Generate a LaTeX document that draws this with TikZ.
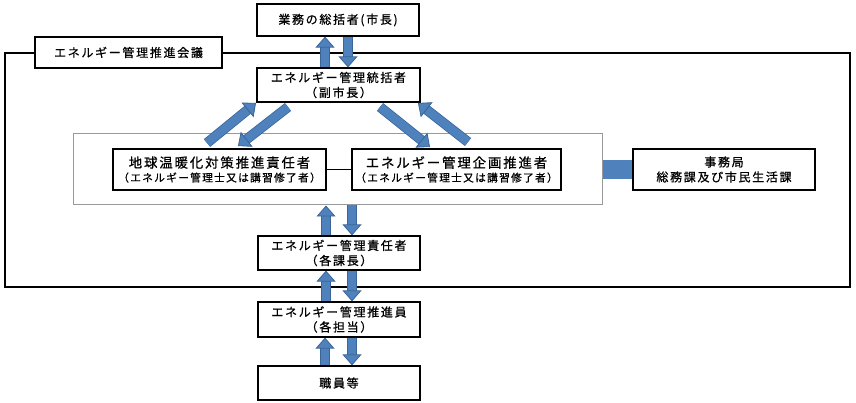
\documentclass[tikz,border=0pt]{standalone}
\usepackage{fontspec}
\usetikzlibrary{arrows.meta}
\setmainfont{Noto Sans CJK JP}[LetterSpace=14,FakeBold=0.8]
\newfontfamily\subfont{Noto Sans CJK JP}[LetterSpace=12,FakeBold=0.6]
\definecolor{ablue}{HTML}{4F81BD}
\definecolor{aborder}{HTML}{3A6596}
\tikzset{
  box/.style={draw=black, line width=1.2pt, fill=white, align=center, inner sep=0pt, font=\fontsize{12}{15}\selectfont},
  barrow/.style={line width=8.5pt, draw=ablue,
     preaction={draw=aborder, line width=10pt, arrows=-, shorten >=9pt},
     -{Triangle[width=19pt,length=11pt,fill=ablue,color=aborder,line width=0.8pt]}}
}
\begin{document}
\begin{tikzpicture}[x=1pt,y=-1pt]
\useasboundingbox (0,0) rectangle (856,403);
% outer frame
\node[draw=black, line width=2pt, minimum width=845pt, minimum height=234pt, inner sep=0pt] (frame) at (427.5,170) {};
\node[box, minimum width=187pt, minimum height=31pt] (conf) at (128.5,52.5) {エネルギー管理推進会議};
% gray group
\node[draw=gray!80, line width=1pt, fill=white, minimum width=529pt, minimum height=71pt, inner sep=0pt] (grp) at (337.5,169.5) {};
% boxes
\node[box, minimum width=162pt, minimum height=32pt] (top) at (338,20) {業務の総括者(市長)};
\node[box, minimum width=163pt, minimum height=34pt] (ctrl) at (338.5,85) {エネルギー管理統括者\\（副市長）};
\node[box, minimum width=213pt, minimum height=41pt, font=\fontsize{13.4}{15}\selectfont] (left) at (219.5,169.5) {地球温暖化対策推進責任者\\[-1pt]{\subfont\fontsize{10.7}{12}\selectfont（エネルギー管理士又は講習修了者）}};
\node[box, minimum width=209pt, minimum height=41pt, font=\fontsize{13.4}{15}\selectfont] (right) at (456.5,169.5) {エネルギー管理企画推進者\\[-1pt]{\subfont\fontsize{10.7}{12}\selectfont（エネルギー管理士又は講習修了者）}};
\node[box, minimum width=182pt, minimum height=41pt] (office) at (724,169.5) {事務局\\総務課及び市民生活課};
\node[box, minimum width=162pt, minimum height=34pt] (resp) at (339,253) {エネルギー管理責任者\\（各課長）};
\node[box, minimum width=162pt, minimum height=35pt] (prom) at (339,319.5) {エネルギー管理推進員\\（各担当）};
\node[box, minimum width=162pt, minimum height=34pt] (staff) at (339,383) {職員等};
% connectors
\draw[line width=1.2pt] (left.east) -- (right.west);
\draw[line width=19pt, draw=ablue] (grp.east) -- (office.west);
% vertical arrows
\draw[barrow] (ctrl.north -| 325,0) -- (top.south -| 325,0);
\draw[barrow] (top.south -| 348,0) -- (ctrl.north -| 348,0);
\draw[barrow] (resp.north -| 326,0) -- (grp.south -| 326,0);
\draw[barrow] (grp.south -| 352,0) -- (resp.north -| 352,0);
\draw[barrow] (prom.north -| 326,0) -- (resp.south -| 326,0);
\draw[barrow] (resp.south -| 352,0) -- (prom.north -| 352,0);
\draw[barrow] (staff.north -| 325,0) -- (prom.south -| 325,0);
\draw[barrow] (prom.south -| 352,0) -- (staff.north -| 352,0);
% diagonal arrows
\coordinate (lu1) at (207,143); \coordinate (lu2) at (256,103);
\coordinate (ld1) at (288,107); \coordinate (ld2) at (238,146);
\coordinate (rd1) at (380,107); \coordinate (rd2) at (430,147);
\coordinate (ru1) at (468,142); \coordinate (ru2) at (418,103);
\draw[barrow] (lu1) -- (lu2);
\draw[barrow] (ld1) -- (ld2);
\draw[barrow] (rd1) -- (rd2);
\draw[barrow] (ru1) -- (ru2);
\end{tikzpicture}
\end{document}
